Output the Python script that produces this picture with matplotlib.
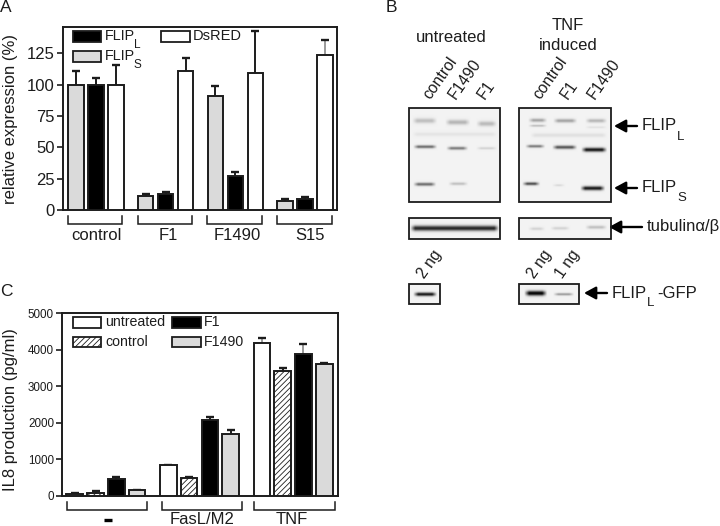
import numpy as np
import matplotlib
matplotlib.use('Agg')
import matplotlib.pyplot as plt
from matplotlib.patches import Rectangle

plt.rcParams['font.family'] = ['Liberation Sans', 'DejaVu Sans']
plt.rcParams['hatch.linewidth'] = 0.6

W, H = 720, 526
INK = '#1c1c1c'
GREY = '#dadada'
FAINT = '#9a9a9a'

# Panel A
groups_a = ['control', 'F1', 'F1490', 'S15']
flip_s = [100, 11, 91, 7.5]
flip_s_err = [11, 2, 8, 1]
flip_l = [100, 13, 27, 9]
flip_l_err = [5, 1.5, 3, 1]
dsred = [100, 111, 109, 124]
dsred_err = [16, 10, 34, 12]
yticks_a = [0, 25, 50, 75, 100, 125]

# Panel C
groups_c = ['-', 'FasL/M2', 'TNF']
untreated = [50, 840, 4180]
untreated_err = [20, 20, 130]
control = [80, 500, 3420]
control_err = [50, 20, 70]
f1 = [470, 2080, 3880]
f1_err = [60, 90, 260]
f1490 = [160, 1700, 3610]
f1490_err = [15, 100, 30]
yticks_c = [0, 1000, 2000, 3000, 4000, 5000]

# Blots: x0, x1, y, strength, thickness (picture pixels)
main_left = [
    (412, 437, 120.5, 0.22, 2.4), (445, 470, 122, 0.26, 2.4), (476, 497, 123.5, 0.24, 2.4),
    (412, 497, 134, 0.06, 2.0),
    (413, 437, 146.5, 0.58, 1.5), (446, 468, 148, 0.52, 1.5), (476, 497, 148, 0.14, 1.2),
    (413, 436, 184, 0.58, 1.6), (448, 468, 183.5, 0.22, 1.4),
]
main_right = [
    (528, 547, 120, 0.34, 1.7), (553, 577, 120.5, 0.34, 1.8), (585, 607, 120.5, 0.26, 1.8),
    (528, 547, 125.5, 0.24, 1.0), (585, 607, 127, 0.08, 1.0), (530, 607, 135, 0.08, 2.0),
    (525, 545, 146, 0.52, 1.4), (552, 577, 147, 0.68, 1.7), (581, 607, 149.5, 0.95, 2.0),
    (522, 540, 183.5, 0.72, 1.5), (552, 565, 185, 0.12, 1.0), (580, 605, 188, 0.95, 2.0),
]
tub_left = [(410, 499, 228, 0.88, 2.6)]
tub_right = [(528, 545, 228.5, 0.14, 1.4), (550, 570, 228, 0.14, 1.4), (585, 607, 227, 0.22, 1.6)]
gfp_left = [(413, 437, 294, 0.95, 1.8)]
gfp_right = [(524, 547, 293, 1.05, 2.4), (553, 574, 294, 0.38, 1.2)]
boxes = [
    ((409, 108, 500, 202), main_left), ((519, 108, 611, 202), main_right),
    ((409, 218, 500, 239), tub_left), ((519, 218, 611, 239), tub_right),
    ((409, 284, 440, 304), gfp_left), ((519, 284, 579, 304), gfp_right),
]


def px_axes(fig, l, t, r, b):
    return fig.add_axes([l / W, 1 - b / H, (r - l) / W, (b - t) / H])


def bars(ax, x, vals, errs, width, faint=(), **style):
    ax.bar(x, vals, width, edgecolor=INK, linewidth=1.4, zorder=3, **style)
    tops = np.array(vals) + np.array(errs)
    colors = [FAINT if i in faint else INK for i in range(len(vals))]
    ax.vlines(x, vals, tops, colors=colors, linewidth=1.4, zorder=2)
    ax.plot(x, tops, ls='none', marker='_', ms=6, mew=1.7, color=INK, zorder=2)


def style_axes(ax, yticks, size):
    for s in ax.spines.values():
        s.set_linewidth(1.4)
        s.set_color(INK)
    ax.set_xticks([])
    ax.set_yticks(yticks)
    ax.tick_params(axis='y', length=4.3, width=1.2, color=INK, labelsize=size, pad=1.5, labelcolor=INK)


fig = plt.figure(figsize=(W / 100, H / 100), dpi=100)

# A
ax_a = px_axes(fig, 63, 27, 337, 210)
xa = np.arange(len(groups_a))
bars(ax_a, xa - 0.287, flip_s, flip_s_err, 0.22, color=GREY)
bars(ax_a, xa, flip_l, flip_l_err, 0.22, color='black')
bars(ax_a, xa + 0.287, dsred, dsred_err, 0.22, faint=[3], color='white')
ax_a.set_xlim(-0.474, 3.46)
ax_a.set_ylim(0, 146)
style_axes(ax_a, yticks_a, 12)
ax_a.set_ylabel('relative expression (%)', fontsize=12, color=INK)
ax_a.yaxis.set_label_coords((18 - 63) / 274, 0.5)

# C
ax_c = px_axes(fig, 62, 313, 338, 496)
xc = np.arange(len(groups_c))
bars(ax_c, xc - 0.333, untreated, untreated_err, 0.178, faint=[2], color='white')
bars(ax_c, xc - 0.111, control, control_err, 0.178, color='white', hatch='//////')
bars(ax_c, xc + 0.111, f1, f1_err, 0.178, faint=[2], color='black')
bars(ax_c, xc + 0.333, f1490, f1490_err, 0.178, color=GREY)
ax_c.set_xlim(-0.47, 2.48)
ax_c.set_ylim(0, 5000)
style_axes(ax_c, yticks_c, 8.4)
ax_c.set_ylabel('IL8 production (pg/ml)', fontsize=12, color=INK)
ax_c.yaxis.set_label_coords((18 - 62) / 276, 0.475)

# overlay in picture pixels for annotations, legends and blots
ov = fig.add_axes([0, 0, 1, 1])
ov.patch.set_alpha(0)
ov.axis('off')


def label(x, y, s, size=12, **kw):
    kw.setdefault('va', 'center')
    kw.setdefault('ha', 'left')
    ov.text(x, y, s, fontsize=size, color=INK, **kw)


def swatch(x, y, w, h, **kw):
    ov.add_patch(Rectangle((x, y), w, h, edgecolor=INK, linewidth=1.3, zorder=5, **kw))


def bracket(x0, x1, y0, y1):
    ov.plot([x0, x0, x1, x1], [y0, y1, y1, y0], color=INK, lw=1.1, solid_joinstyle='miter')


def arrow(x_tail, x_tip, y):
    ov.annotate('', xy=(x_tip, y), xytext=(x_tail, y),
                arrowprops=dict(arrowstyle='-|>,head_width=0.38,head_length=0.7', color='black',
                                lw=1.7, shrinkA=0, shrinkB=0))


# panel letters
label(0, 7, 'A', 12.5)
label(386, 7, 'B', 12.5)
label(0, 292, 'C', 12.5)

# A legend
swatch(73, 31, 28, 11, facecolor='black')
label(105, 36, 'FLIP', 10.4)
label(134, 45, 'L', 8.5)
swatch(73, 51, 28, 11, facecolor=GREY)
label(105, 56, 'FLIP', 10.4)
label(134, 65, 'S', 8.5)
swatch(161, 31, 29, 11, facecolor='white')
label(193, 36, 'DsRED', 10.5)

# A brackets
for x0, x1 in [(68, 122), (138, 192), (207, 262), (277, 332)]:
    bracket(x0, x1, 216, 224)
for x, s in zip([96, 168, 237, 310], groups_a):
    label(x, 235, s, ha='center')

# C legend
swatch(73, 317, 28, 11, facecolor='white')
label(105, 322, 'untreated', 10.2)
swatch(73, 337, 28, 10, facecolor='white', hatch='//////')
label(105, 342, 'control', 10.2)
swatch(172, 317, 29, 11, facecolor='black')
label(204, 322, 'F1', 10.2)
swatch(172, 337, 29, 10, facecolor=GREY)
label(204, 342, 'F1490', 10.2)

# C brackets
for x0, x1 in [(67, 147), (162, 242), (254, 335)]:
    bracket(x0, x1, 502, 510)
ov.plot([103.5, 111.5], [520, 520], color='black', lw=2.4, solid_capstyle='butt')
label(202, 520, groups_c[1], ha='center')
label(292, 520, groups_c[2], ha='center')

# blots
for (x0, y0, x1, y1), blot_bands in boxes:
    xs = np.arange(x0, x1, 0.5)
    ys = np.arange(y0, y1, 0.5)
    gx, gy = np.meshgrid(xs, ys)
    dark = np.zeros_like(gx)
    for bx0, bx1, by, amp, th in blot_bands:
        edge = np.clip((gx - bx0) / 5, 0, 1) * np.clip((bx1 - gx) / 5, 0, 1)
        dark += amp * edge * np.exp(-((gy - by) / th) ** 2)
    ov.imshow(0.95 - 0.92 * np.clip(dark, 0, 1), cmap='gray', vmin=0, vmax=1, aspect='auto',
              extent=(x0, x1, y1, y0), interpolation='bilinear', zorder=1)
    ov.add_patch(Rectangle((x0, y0), x1 - x0, y1 - y0, fill=False, edgecolor=INK, linewidth=1.3, zorder=4))

ov.set_xlim(0, W)
ov.set_ylim(H, 0)

label(451, 38, 'untreated', ha='center')
label(568, 26, 'TNF', ha='center')
label(568, 45, 'induced', ha='center')

# lane labels
for x, s in [(430, 'control'), (456, 'F1490'), (485, 'F1'),
             (540, 'control'), (568, 'F1'), (595, 'F1490'),
             (425, '2 ng'), (535, '2 ng'), (563, '1 ng')]:
    y = 100 if 'ng' not in s else 279
    label(x, y, s, 11.3, rotation=55, rotation_mode='anchor', ha='left', va='baseline')

# band names
arrow(637, 614, 126)
label(642, 126, 'FLIP', 12)
label(677, 137, 'L', 9.5)
arrow(637, 614, 188)
label(642, 188, 'FLIP', 12)
label(677, 198, 'S', 9.5)
arrow(642, 609, 227)
label(647, 227, 'tubulinα/β', 12)
arrow(607, 584, 293)
label(612, 293, 'FLIP', 12)
label(647, 303, 'L', 9.5)
label(657, 293, '-GFP', 12)

fig.savefig('out.png', dpi=100)
